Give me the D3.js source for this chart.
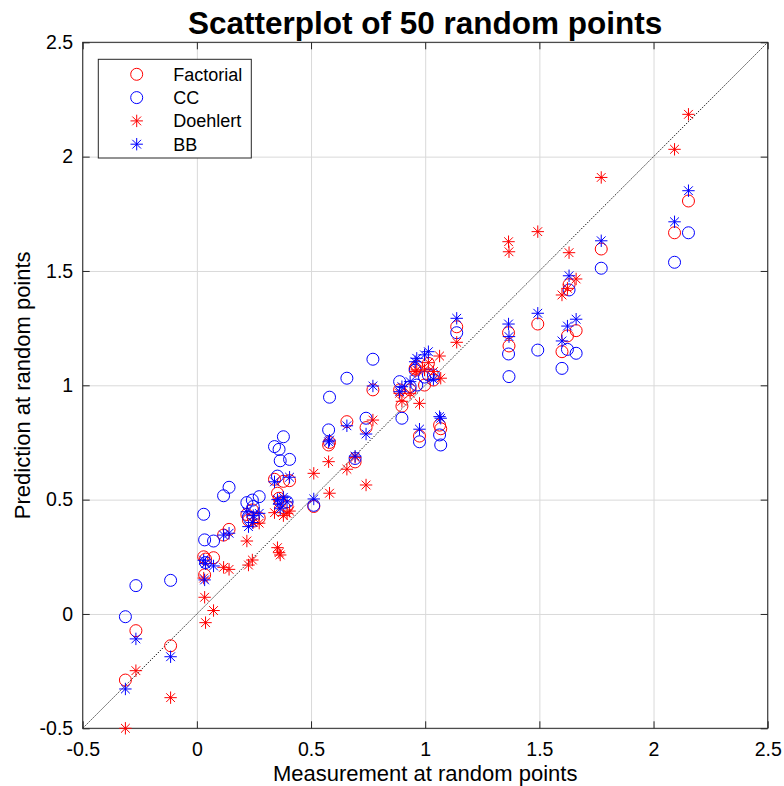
<!DOCTYPE html>
<html>
<head>
<meta charset="utf-8">
<script src="https://cdn.jsdelivr.net/npm/d3@7"></script>
<style>
  html, body { margin: 0; padding: 0; background: #fff; }
  svg { display: block; font-family: "Liberation Sans", Arial, Helvetica, sans-serif; }
</style>
</head>
<body>
<svg id="chart" width="784" height="786"></svg>
<script>
// Measured values (x) shared by every design, and the predictions of each design (y)
const measurement = [
  -0.313, -0.267, -0.115, 0.030, 0.034, 0.038, 0.073, 0.117, 0.141, 0.219,
   0.226,  0.243,  0.247, 0.273, 0.340, 0.353, 0.360, 0.365, 0.379, 0.395,
   0.406,  0.512,  0.577, 0.581, 0.657, 0.693, 0.741, 0.771, 0.888, 0.898,
   0.934,  0.956,  0.963, 0.975, 0.997, 1.014, 1.036, 1.063, 1.068, 1.138,
   1.365,  1.367,  1.493, 1.599, 1.623, 1.630, 1.661, 1.771, 2.092, 2.153
];
const factorial = [
  -0.289, -0.073, -0.139, 0.250, 0.171, 0.240, 0.246, 0.345, 0.370, 0.435,
   0.410,  0.455,  0.420, 0.420, 0.589, 0.528, 0.506, 0.490, 0.580, 0.470,
   0.583,  0.470,  0.739, 0.750, 0.841, 0.665, 0.815, 0.980, 0.980, 0.909,
   0.980,  1.074,  1.084, 0.778, 1.001, 1.096, 1.023, 0.826, 0.810, 1.256,
   1.230,  1.172,  1.268, 1.147, 1.216, 1.440, 1.239, 1.596, 1.667, 1.806
];
const cc = [
  -0.012,  0.124,  0.147, 0.436, 0.324, 0.225, 0.319, 0.517, 0.554, 0.487,
   0.425,  0.498,  0.470, 0.513, 0.732, 0.603, 0.720, 0.670, 0.775, 0.490,
   0.676,  0.475,  0.805, 0.948, 1.031, 0.680, 0.856, 1.114, 1.016, 0.856,
   0.994,  1.066,  1.001, 0.753, 1.036, 1.045, 1.045, 0.783, 0.739, 1.230,
   1.137,  1.038,  1.154, 1.074, 1.157, 1.417, 1.140, 1.512, 1.538, 1.667
];
const doehlert = [
  -0.500, -0.248, -0.366, 0.157, 0.073, -0.038, 0.015, 0.204, 0.195, 0.319,
   0.214,  0.236,  0.400, 0.397, 0.443, 0.290, 0.268, 0.258, 0.430, 0.440,
   0.450,  0.615,  0.666, 0.528, 0.633, 0.685, 0.564, 0.848, 0.965, 0.930,
   0.965,  1.060,  1.067, 0.921, 1.067, 1.099, 1.060, 1.128, 1.031, 1.188,
   1.628,  1.584,  1.672, 1.395, 1.424, 1.580, 1.465, 1.909, 2.032, 2.185
];
const bb = [
  -0.328, -0.109, -0.187, 0.235, 0.149, 0.220, 0.210, 0.345, 0.353, 0.447,
   0.382,  0.400,  0.430, 0.440, 0.578, 0.500, 0.480, 0.460, 0.510, 0.490,
   0.598,  0.503,  0.753, 0.760, 0.823, 0.690, 0.787, 0.997, 0.972, 0.994,
   1.016,  1.103,  1.118, 0.808, 1.133, 1.147, 1.026, 0.863, 0.856, 1.293,
   1.268,  1.213,  1.315, 1.194, 1.259, 1.479, 1.289, 1.632, 1.715, 1.851
];

const seriesNames = ["Factorial", "CC", "Doehlert", "BB"];
const seriesValues = [factorial, cc, doehlert, bb];
const seriesColors = ["#ff0000", "#0000ff", "#ff0000", "#0000ff"];
const seriesMarkers = ["circle", "circle", "star", "star"];

const tickValues = [-0.5, 0, 0.5, 1, 1.5, 2, 2.5];
const tickLabels = ["-0.5", "0", "0.5", "1", "1.5", "2", "2.5"];

const titleText = "Scatterplot of 50 random points";
const xLabelText = "Measurement at random points";
const yLabelText = "Prediction at random points";

// ---- layout ----
const svg = d3.select("#chart");
const plotL = 82.7, plotR = 767.7, plotT = 42.3, plotB = 728.3;
const x = d3.scaleLinear().domain([-0.5, 2.5]).range([plotL, plotR]);
const y = d3.scaleLinear().domain([-0.5, 2.5]).range([plotB, plotT]);
const frameColor = "#262626";
const gridColor = "#d9d9d9";
const tickFont = 19.5;
const labelFor = v => tickLabels[tickValues.indexOf(v)];

// grid lines
const grid = svg.append("g");
grid.append("g")
  .attr("transform", `translate(0,${plotB})`)
  .call(d3.axisBottom(x).tickValues(tickValues).tickSize(-(plotB - plotT)).tickFormat(""))
  .call(g => g.select(".domain").remove())
  .call(g => g.selectAll("line").attr("stroke", gridColor).attr("stroke-width", 1));
grid.append("g")
  .attr("transform", `translate(${plotL},0)`)
  .call(d3.axisLeft(y).tickValues(tickValues).tickSize(-(plotR - plotL)).tickFormat(""))
  .call(g => g.select(".domain").remove())
  .call(g => g.selectAll("line").attr("stroke", gridColor).attr("stroke-width", 1));

// reference line y = x
svg.append("line")
  .attr("x1", x(-0.5)).attr("y1", y(-0.5))
  .attr("x2", x(2.5)).attr("y2", y(2.5))
  .attr("stroke", "#000").attr("stroke-width", 0.9)
  .attr("stroke-dasharray", "1.4,1.4");

// axes with inward ticks on all four sides
const tickLen = 7;
const axisStyle = g => {
  g.select(".domain").remove();
  g.selectAll("line").attr("stroke", frameColor).attr("stroke-width", 1);
  g.selectAll("text").attr("fill", "#000").style("font-size", tickFont + "px");
};
svg.append("g")
  .attr("transform", `translate(0,${plotB})`)
  .call(d3.axisBottom(x).tickValues(tickValues).tickSizeInner(-tickLen).tickSizeOuter(0)
    .tickPadding(13.5).tickFormat(labelFor))
  .call(axisStyle);
svg.append("g")
  .attr("transform", `translate(0,${plotT})`)
  .call(d3.axisTop(x).tickValues(tickValues).tickSizeInner(-tickLen).tickSizeOuter(0).tickFormat(""))
  .call(axisStyle);
svg.append("g")
  .attr("transform", `translate(${plotL},0)`)
  .call(d3.axisLeft(y).tickValues(tickValues).tickSizeInner(-tickLen).tickSizeOuter(0)
    .tickPadding(9.5).tickFormat(labelFor))
  .call(axisStyle);
svg.append("g")
  .attr("transform", `translate(${plotR},0)`)
  .call(d3.axisRight(y).tickValues(tickValues).tickSizeInner(-tickLen).tickSizeOuter(0).tickFormat(""))
  .call(axisStyle);

// frame
svg.append("rect")
  .attr("x", plotL).attr("y", plotT)
  .attr("width", plotR - plotL).attr("height", plotB - plotT)
  .attr("fill", "none").attr("stroke", frameColor).attr("stroke-width", 1);

// markers
const starPath = s => {
  const d = s * Math.SQRT1_2;
  return `M${-s},0L${s},0M0,${-s}L0,${s}M${-d},${-d}L${d},${d}M${-d},${d}L${d},${-d}`;
};
const drawMarker = (sel, kind, color) => {
  if (kind === "circle") {
    sel.append("circle").attr("r", 6)
      .attr("fill", "none").attr("stroke", color).attr("stroke-width", 1);
  } else {
    sel.append("path").attr("d", starPath(6.2))
      .attr("fill", "none").attr("stroke", color).attr("stroke-width", 1);
  }
};

seriesValues.forEach((vals, si) => {
  const g = svg.append("g").attr("class", "series-" + seriesNames[si]);
  const pts = g.selectAll("g").data(measurement.map((m, i) => [m, vals[i]]))
    .join("g")
    .attr("transform", d => `translate(${x(d[0])},${y(d[1])})`);
  drawMarker(pts, seriesMarkers[si], seriesColors[si]);
});

// legend
const legend = svg.append("g");
legend.append("rect")
  .attr("x", 98.3).attr("y", 59.3).attr("width", 153).attr("height", 98.7)
  .attr("fill", "#fff").attr("stroke", frameColor).attr("stroke-width", 1);
seriesNames.forEach((name, i) => {
  const cy = 74.3 + i * 23.3;
  const item = legend.append("g").attr("transform", `translate(136.7,${cy})`);
  drawMarker(item, seriesMarkers[i], seriesColors[i]);
  legend.append("text")
    .attr("x", 173.3).attr("y", cy).attr("dy", "0.35em")
    .style("font-size", "18px").attr("fill", "#000")
    .text(name);
});

// title and axis labels
svg.append("text")
  .attr("x", (plotL + plotR) / 2).attr("y", 33.5)
  .attr("text-anchor", "middle")
  .style("font-size", "31.5px").style("font-weight", "bold")
  .text(titleText);
svg.append("text")
  .attr("x", (plotL + plotR) / 2).attr("y", 781)
  .attr("text-anchor", "middle")
  .style("font-size", "22px")
  .text(xLabelText);
svg.append("text")
  .attr("transform", `translate(30,${(plotT + plotB) / 2}) rotate(-90)`)
  .attr("text-anchor", "middle")
  .style("font-size", "22px")
  .text(yLabelText);
</script>
</body>
</html>
